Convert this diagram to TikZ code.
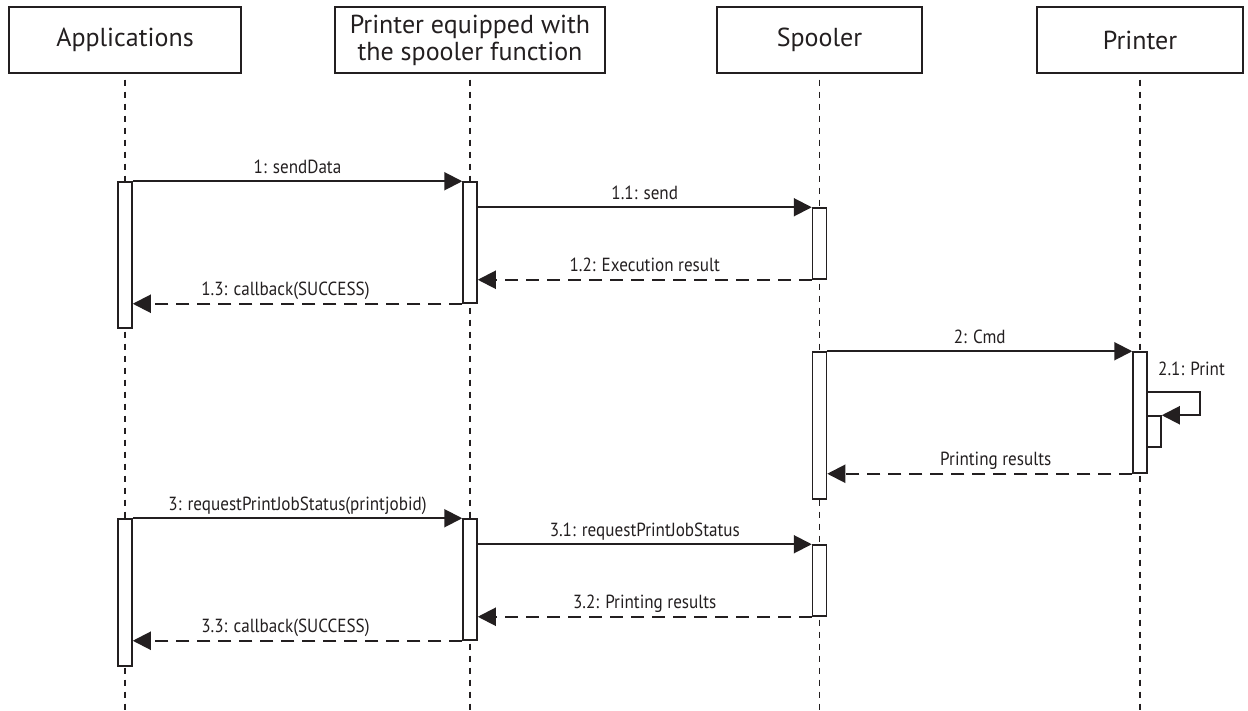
\documentclass[tikz,border=0pt]{standalone}
\usepackage{fontspec}
\usetikzlibrary{arrows.meta}
\newfontfamily\headfont{PT Sans}
\newfontfamily\lblfont[FakeStretch=0.9]{PT Sans}
\definecolor{ink}{RGB}{35,31,32}
\tikzset{
      headbox/.style={
          rectangle,
          draw=ink,
          line width=1.4pt,
          inner sep=0pt,
          align=center,
          text=ink,
          font={\headfont\fontsize{26}{27}\selectfont}
      },
      actbar/.style={
          rectangle,
          draw=ink,
          fill=white,
          line width=1.5pt,
          minimum width=14pt,
          inner sep=0pt
      },
      lifeln/.style={draw=ink, line width=1.7pt, dash pattern=on 6pt off 6pt, dash phase=6pt},
      msg/.style={draw=ink, line width=2pt, -{Triangle[length=18pt,width=18pt]}},
      reply/.style={msg, dash pattern=on 13pt off 8pt},
      lbl/.style={inner sep=0pt, anchor=base, yshift=8pt, text=ink, font={\lblfont\fontsize{19}{21}\selectfont}}
  }
\begin{document}
\begin{tikzpicture}[x=1pt, y=-1pt]
    \useasboundingbox (0,0) rectangle (1248,711);
    \coordinate (bot) at (0,711);

    \node [headbox, minimum width=232pt, minimum height=66pt] (app) at (125,40) {Applications};
    \node [headbox, minimum width=270pt, minimum height=66pt] (pe) at (470,40) {Printer equipped with\\the spooler function};
    \node [headbox, minimum width=205pt, minimum height=66pt] (spool) at (819.5,40) {Spooler};
    \node [headbox, minimum width=206pt, minimum height=66pt] (prn) at (1140,40) {Printer};

    \draw[lifeln] (app.south) -- (app.south |- bot);
    \draw[lifeln] (pe.south) -- (pe.south |- bot);
    \draw[lifeln] (spool.south) -- (spool.south |- bot);
    \draw[lifeln] (prn.south) -- (prn.south |- bot);

    %% activations
    \node [actbar, minimum height=146pt] (a1) at (125,255) {};
    \node [actbar, minimum height=121pt] (p1) at (470,242.5) {};
    \node [actbar, minimum height=71pt] (s1) at (819.5,243.5) {};
    \node [actbar, minimum height=147pt] (s2) at (819.5,425.5) {};
    \node [actbar, minimum height=121pt] (r1) at (1140,412.5) {};
    \node [actbar, minimum height=31pt] (rr) at (1154,431.5) {};
    \node [actbar, minimum height=147pt] (a2) at (125,592.5) {};
    \node [actbar, minimum height=121pt] (p2) at (470,579.5) {};
    \node [actbar, minimum height=71pt] (s3) at (819.5,580.5) {};

    %% messages 1
    \draw[msg] (a1.north east) -- node[lbl] (l1) {1: sendData} (p1.north west);
    \draw[msg] (p1.east |- s1.north) -- node[lbl] (l11) {1.1: send} (s1.north west);
    \draw[reply] (s1.south west) -- node[lbl] (l12) {1.2: Execution result} (p1.east |- s1.south);
    \draw[reply] (p1.south west) -- node[lbl, xshift=-12pt] (l13) {1.3: callback(SUCCESS)} (a1.east |- p1.south);

    %% messages 2
    \draw[msg] (s2.north east) -- node[lbl] (l2) {2: Cmd} (r1.north west);
    \coordinate (c21) at (1200,392);
    \draw[msg] (r1.east |- c21) -- (c21) |- (rr.north east);
    \node [lbl, anchor=base west, yshift=0pt] (l21) at (1158,383) {2.1: Print};
    \draw[reply] (r1.south west) -- node[lbl, xshift=16pt] (lpr) {Printing results} (s2.east |- r1.south);

    %% messages 3
    \draw[msg] (a2.north east) -- node[lbl] (l3) {3: requestPrintJobStatus(printjobid)} (p2.north west);
    \draw[msg] (p2.east |- s3.north) -- node[lbl] (l31) {3.1: requestPrintJobStatus} (s3.north west);
    \draw[reply] (s3.south west) -- node[lbl] (l32) {3.2: Printing results} (p2.east |- s3.south);
    \draw[reply] (p2.south west) -- node[lbl, xshift=-12pt] (l33) {3.3: callback(SUCCESS)} (a2.east |- p2.south);
\end{tikzpicture}
\end{document}
